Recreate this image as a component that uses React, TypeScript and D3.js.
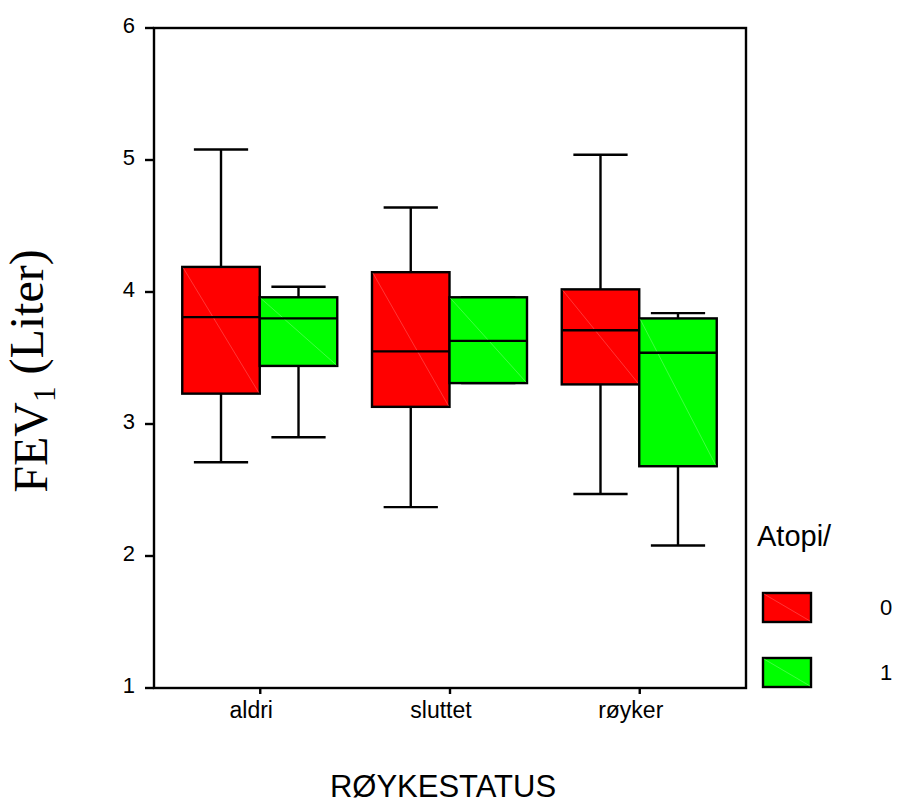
import React from 'react';
import * as d3 from 'd3';

// røykestatus categories and atopi groups
const categories = ['aldri', 'sluttet', 'røyker'];
const groups = ['0', '1'];
const groupColors = ['#ff0000', '#00ff00'];
const groupLines = ['#ff5a5a', '#6aff6a'];

// box stats per category, one array per atopi group: [min, q1, median, q3, max]
const atopi0 = [
  [2.71, 3.23, 3.81, 4.19, 5.08],
  [2.37, 3.13, 3.55, 4.15, 4.64],
  [2.47, 3.30, 3.71, 4.02, 5.04],
];
const atopi1 = [
  [2.90, 3.44, 3.80, 3.96, 4.04],
  [3.31, 3.31, 3.63, 3.96, 3.96],
  [2.08, 2.68, 3.54, 3.80, 3.84],
];
const yTicks = [1, 2, 3, 4, 5, 6];

const W = 897;
const H = 803;
const margin = {top: 28, right: 151, bottom: 115, left: 154};

export default function App() {
  const x = d3.scalePoint<string>()
    .domain(categories)
    .range([margin.left, W - margin.right])
    .padding(0.56);
  const y = d3.scaleLinear()
    .domain([1, 6])
    .range([H - margin.bottom, margin.top]);
  const sub = d3.scaleBand<string>()
    .domain(groups)
    .range([-78, 77]);

  const series = [atopi0, atopi1];
  const bw = sub.bandwidth();
  const capW = bw * 0.7;

  return (
    <svg width={W} height={H} style={{display: 'block', position: 'absolute', left: 0, top: 0}}
      fontFamily="Arial, 'Liberation Sans', sans-serif">
      <rect x={0} y={0} width={W} height={H} fill="#fff" />

      {/* boxes */}
      {series.map((data, gi) => (
        <g key={gi}>
          {categories.map((c, ci) => {
            const [mn, q1, md, q3, mx] = data[ci];
            const x0 = (x(c) as number) + (sub(groups[gi]) as number);
            const cx = x0 + bw / 2;
            return (
              <g key={c} stroke="#000" strokeWidth={2.4}>
                <line x1={cx} x2={cx} y1={y(mx)} y2={y(q3)} />
                <line x1={cx} x2={cx} y1={y(q1)} y2={y(mn)} />
                <line x1={cx - capW / 2} x2={cx + capW / 2} y1={y(mx)} y2={y(mx)} />
                <line x1={cx - capW / 2} x2={cx + capW / 2} y1={y(mn)} y2={y(mn)} />
                <rect x={x0} y={y(q3)} width={bw} height={y(q1) - y(q3)} fill={groupColors[gi]} />
                <line x1={x0 + 1} y1={y(q3) + 1} x2={x0 + bw - 1} y2={y(q1) - 1}
                  stroke={groupLines[gi]} strokeWidth={0.6} />
                <line x1={x0} x2={x0 + bw} y1={y(md)} y2={y(md)} />
              </g>
            );
          })}
        </g>
      ))}

      {/* frame */}
      <rect x={margin.left} y={margin.top} width={W - margin.left - margin.right}
        height={H - margin.top - margin.bottom} fill="none" stroke="#000" strokeWidth={2.4} />

      {/* y axis */}
      {yTicks.map((t) => (
        <g key={t}>
          <line x1={margin.left - 9} x2={margin.left} y1={y(t)} y2={y(t)} stroke="#000" strokeWidth={2.4} />
          <text x={margin.left - 19} y={y(t) + 4.5} textAnchor="end" fontSize={22}>{t}</text>
        </g>
      ))}

      {/* x axis */}
      {categories.map((c) => (
        <g key={c}>
          <line x1={x(c)} x2={x(c)} y1={H - margin.bottom} y2={H - margin.bottom + 6} stroke="#000" strokeWidth={2.4} />
          <text x={(x(c) as number) - 9} y={H - margin.bottom + 30} textAnchor="middle" fontSize={23}>{c}</text>
        </g>
      ))}

      {/* titles */}
      <text x={443} y={797} textAnchor="middle" fontSize={31}>RØYKESTATUS</text>
      <text transform="translate(47,371) rotate(-90)" textAnchor="middle"
        fontFamily="'Liberation Serif', 'Times New Roman', serif" fontSize={48}>
        FEV<tspan fontSize={31} dy="0.25em">1</tspan><tspan dy="-0.25em"> (Liter)</tspan>
      </text>

      {/* legend */}
      <text x={757} y={546} fontSize={29}>Atopi/</text>
      {groups.map((g, i) => (
        <g key={g} transform={`translate(763,${593 + i * 65})`}>
          <rect width={48} height={29} fill={groupColors[i]} stroke="#000" strokeWidth={2.4} />
          <line x1={1} y1={1} x2={47} y2={28} stroke={groupLines[i]} strokeWidth={0.6} />
          <text x={123} y={22} textAnchor="middle" fontSize={22}>{g}</text>
        </g>
      ))}
    </svg>
  );
}
